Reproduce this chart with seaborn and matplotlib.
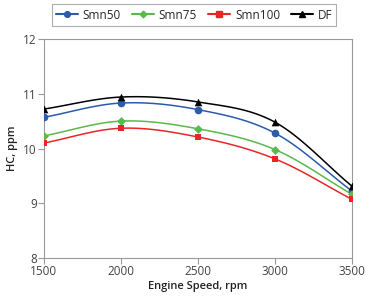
import numpy as np
import pandas as pd
import matplotlib
matplotlib.use('Agg')
import matplotlib.pyplot as plt
from matplotlib.lines import Line2D
import seaborn as sns

# Data
speed = [1500, 2000, 2500, 3000, 3500]
smn50 = [10.57, 10.83, 10.71, 10.28, 9.22]
smn75 = [10.23, 10.50, 10.36, 9.98, 9.16]
smn100 = [10.10, 10.37, 10.21, 9.81, 9.07]
df_fuel = [10.72, 10.94, 10.85, 10.48, 9.31]

series = ['Smn50', 'Smn75', 'Smn100', 'DF']
values = [smn50, smn75, smn100, df_fuel]
colors = ['#2a5caa', '#5ab94a', '#e8262a', '#000000']
markers = ['o', 'D', 's', '^']
msizes = [5.5, 4.5, 5, 5.5]

sns.set_style('white')
plt.rcParams['font.family'] = ['Open Sans', 'DejaVu Sans']


def smooth(x, y, n=30):
    # Catmull-Rom style smoothing, similar to a spreadsheet "smoothed line"
    x = np.asarray(x, float)
    y = np.asarray(y, float)
    px = np.concatenate([[2 * x[0] - x[1]], x, [2 * x[-1] - x[-2]]])
    py = np.concatenate([[2 * y[0] - y[1]], y, [2 * y[-1] - y[-2]]])
    xs, ys = [], []
    t = np.linspace(0, 1, n, endpoint=False)
    for i in range(1, len(px) - 2):
        for p, out in ((px, xs), (py, ys)):
            p0, p1, p2, p3 = p[i - 1], p[i], p[i + 1], p[i + 2]
            out.extend(0.5 * ((2 * p1) + (-p0 + p2) * t
                              + (2 * p0 - 5 * p1 + 4 * p2 - p3) * t ** 2
                              + (-p0 + 3 * p1 - 3 * p2 + p3) * t ** 3))
    xs.append(x[-1])
    ys.append(y[-1])
    return np.array(xs), np.array(ys)


fig = plt.figure(figsize=(3.66, 3.0), dpi=100)
ax = fig.add_axes([0.120, 0.140, 0.842, 0.730])

for name, vals, c, m, ms in zip(series, values, colors, markers, msizes):
    sx, sy = smooth(speed, vals)
    sns.lineplot(x=sx, y=sy, ax=ax, color=c, linewidth=1.1, sort=False,
                 estimator=None)
    pts = pd.DataFrame({'speed': speed, 'hc': vals})
    sns.scatterplot(data=pts, x='speed', y='hc', ax=ax, color=c, marker=m,
                    s=ms ** 2, edgecolor=c, linewidth=0, zorder=5)

ax.set_xlim(1500, 3500)
ax.set_ylim(8, 12)
ax.set_xticks([1500, 2000, 2500, 3000, 3500])
ax.set_yticks([8, 9, 10, 11, 12])
ax.set_xlabel('Engine Speed, rpm', fontsize=8, color='#222222', labelpad=2,
              fontweight='semibold')
ax.set_ylabel('HC, ppm', fontsize=8, color='#222222', labelpad=4,
              fontweight='semibold')
ax.tick_params(axis='both', labelsize=8.5, length=4, width=0.8,
               direction='out', pad=1, left=True, bottom=True,
               colors='#999999', labelcolor='#444444')
for sp in ax.spines.values():
    sp.set_color('#999999')
    sp.set_linewidth(0.8)

handles = [Line2D([0], [0], color=c, marker=m, markersize=ms * 0.75, lw=1.5)
           for c, m, ms in zip(colors, markers, msizes)]
leg = fig.legend(handles, series, loc='upper center', ncol=4,
                 bbox_to_anchor=(0.53, 1.005), fontsize=8.5, frameon=True,
                 fancybox=False, handlelength=1.9, handletextpad=0.4,
                 columnspacing=0.9, borderpad=0.35)
leg.get_frame().set_edgecolor('#999999')
leg.get_frame().set_linewidth(0.8)

fig.savefig('out.png', dpi=100)
